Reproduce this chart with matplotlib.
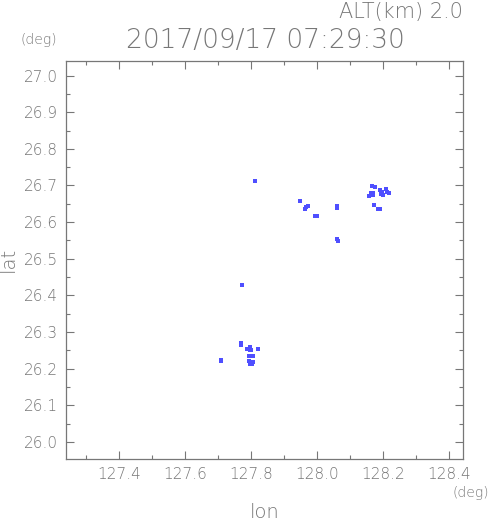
import matplotlib
matplotlib.use('Agg')
import matplotlib.pyplot as plt
from matplotlib.ticker import MultipleLocator, FormatStrFormatter

# Posiciones de los ecos (lon, lat)
lon = [127.812, 127.773, 127.948,
       127.973, 127.967, 127.964,
       127.994, 128.000,
       128.060, 128.060,
       128.060, 128.063,
       128.166, 128.175, 128.163, 128.169, 128.157, 128.169,
       128.190, 128.196, 128.199, 128.193,
       128.208, 128.211, 128.217,
       128.172, 128.184, 128.190,
       127.770, 127.770,
       127.708, 127.708,
       127.797, 127.788, 127.797, 127.800, 127.821,
       127.794, 127.806,
       127.794, 127.800, 127.806, 127.797, 127.803]
lat = [26.712, 26.429, 26.658,
       26.644, 26.641, 26.636,
       26.617, 26.617,
       26.644, 26.639,
       26.554, 26.549,
       26.699, 26.696, 26.680, 26.680, 26.671, 26.674,
       26.688, 26.682, 26.674, 26.677,
       26.690, 26.682, 26.680,
       26.647, 26.636, 26.636,
       26.270, 26.265,
       26.224, 26.221,
       26.259, 26.254, 26.251, 26.251, 26.254,
       26.235, 26.235,
       26.221, 26.218, 26.218, 26.213, 26.213]

titulo = '2017/09/17 07:29:30'
altura = 'ALT(km) 2.0'

gris = '#777777'
plt.rcParams['font.family'] = 'DejaVu Sans'
plt.rcParams['font.weight'] = 'light'

W, H = 491, 521
fig = plt.figure(figsize=(W / 100, H / 100), dpi=100)
ax = fig.add_axes([66.3 / W, 1 - 458.7 / H, 397 / W, 397.4 / H])

ax.scatter(lon, lat, marker='s', s=6, color='#4f4fff', linewidths=0)

ax.set_xlim(127.2415, 128.442)
ax.set_ylim(25.954, 27.039)
ax.xaxis.set_major_locator(MultipleLocator(0.2))
ax.xaxis.set_minor_locator(MultipleLocator(0.1))
ax.yaxis.set_major_locator(MultipleLocator(0.1))
ax.yaxis.set_minor_locator(MultipleLocator(0.05))
ax.xaxis.set_major_formatter(FormatStrFormatter('%.1f'))
ax.yaxis.set_major_formatter(FormatStrFormatter('%.1f'))
ax.tick_params(which='both', direction='in', top=True, right=True,
               color=gris, labelcolor=gris, labelsize=11, width=0.8)
ax.tick_params(which='major', length=6)
ax.tick_params(which='minor', length=3)
ax.tick_params(axis='both', pad=6)
for s in ax.spines.values():
    s.set_color(gris)
    s.set_linewidth(0.9)

def px(x, y):
    return x / W, 1 - y / H

fig.text(*px(463, 12), altura, ha='right', va='center', fontsize=15, color=gris)
fig.text(*px(265, 40), titulo, ha='center', va='center', fontsize=19, color=gris)
fig.text(*px(39, 40), '(deg)', ha='center', va='center', fontsize=10, color=gris)
fig.text(*px(471, 493), '(deg)', ha='center', va='center', fontsize=10, color=gris)
fig.text(*px(265, 512), 'lon', ha='center', va='center', fontsize=14, color=gris)
fig.text(*px(8, 259), 'lat', ha='center', va='center', fontsize=14, color=gris,
         rotation=90)

fig.savefig('out.png', dpi=100)
